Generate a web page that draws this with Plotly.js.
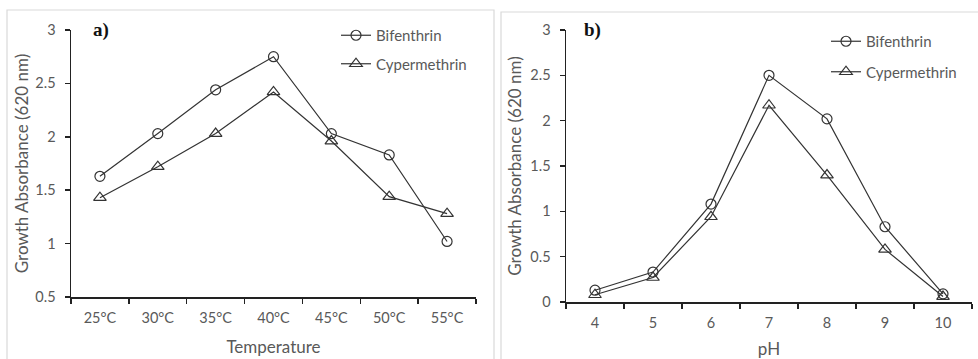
<!DOCTYPE html>
<html>
<head>
<meta charset="utf-8">
<script src="https://cdn.plot.ly/plotly-3.0.1.min.js"></script>
<style>html,body{margin:0;padding:0;background:#fff;}#chart{width:978px;height:359px;}</style>
</head>
<body>
<div id="chart"></div>
<script>
// Panel a) temperature
const tempLabels = ["25°C","30°C","35°C","40°C","45°C","50°C","55°C"];
const tempBifenthrin = [1.63, 2.03, 2.44, 2.75, 2.03, 1.83, 1.02];
const tempCypermethrin = [1.43, 1.72, 2.03, 2.42, 1.96, 1.44, 1.28];
// Panel b) pH
const phLabels = ["4","5","6","7","8","9","10"];
const phBifenthrin = [0.13, 0.33, 1.08, 2.50, 2.02, 0.83, 0.09];
const phCypermethrin = [0.08, 0.27, 0.94, 2.17, 1.40, 0.58, 0.06];

const FONT = "Lato, 'Open Sans', sans-serif";
const GREY = "#595959";
const lineStyle = {color: "#333333", width: 1.2};
const circle = {symbol: "circle-open", size: 10, color: "#333333", line: {width: 1.2}};
const triangle = {symbol: "triangle-up-open", size: 11, color: "#333333", line: {width: 1.2}};

const traces = [
  {x: tempLabels, y: tempBifenthrin, name: "Bifenthrin", type: "scatter", mode: "lines+markers",
   line: lineStyle, marker: circle, xaxis: "x", yaxis: "y", legend: "legend", legendgroup: "a1"},
  {x: tempLabels, y: tempCypermethrin, name: "Cypermethrin", type: "scatter", mode: "lines+markers",
   line: lineStyle, marker: triangle, xaxis: "x", yaxis: "y", legend: "legend", legendgroup: "a2"},
  {x: phLabels, y: phBifenthrin, name: "Bifenthrin", type: "scatter", mode: "lines+markers",
   line: lineStyle, marker: circle, xaxis: "x2", yaxis: "y2", legend: "legend2", legendgroup: "b1"},
  {x: phLabels, y: phCypermethrin, name: "Cypermethrin", type: "scatter", mode: "lines+markers",
   line: lineStyle, marker: triangle, xaxis: "x2", yaxis: "y2", legend: "legend2", legendgroup: "b2"}
];

const W = 978, H = 359;
const px = v => v / W;
const py = v => 1 - v / H;

const axisCommon = {
  showline: true, linecolor: "#222", linewidth: 1.5,
  ticks: "outside", ticklen: 5, tickcolor: "#222", tickwidth: 1.5,
  showgrid: false, zeroline: false,
  tickfont: {family: FONT, size: 14.5, color: GREY}
};
const titleFont = {family: FONT, size: 17, color: GREY};

const layout = {
  width: W, height: H,
  margin: {l: 0, r: 0, t: 0, b: 0},
  paper_bgcolor: "#fff", plot_bgcolor: "rgba(0,0,0,0)",
  font: {family: FONT, color: GREY},
  showlegend: true,
  xaxis: Object.assign({}, axisCommon, {
    domain: [px(71), px(476)], anchor: "y", type: "category",
    tickson: "boundaries", range: [-0.5, 6.5], ticklabelstandoff: 7,
    title: {text: "Temperature", font: titleFont, standoff: 16}
  }),
  yaxis: Object.assign({}, axisCommon, {
    domain: [py(297), py(30)], anchor: "x", range: [0.5, 3], dtick: 0.5, tick0: 0,
    ticklabelstandoff: 6,
    title: {text: "Growth Absorbance (620 nm)", font: titleFont, standoff: 2}
  }),
  xaxis2: Object.assign({}, axisCommon, {
    domain: [px(566), px(972)], anchor: "y2", type: "category",
    tickson: "boundaries", range: [-0.5, 6.5], ticklabelstandoff: 7,
    title: {text: "pH", font: titleFont, standoff: 14}
  }),
  yaxis2: Object.assign({}, axisCommon, {
    domain: [py(302), py(30)], anchor: "x2", range: [0, 3], dtick: 0.5, tick0: 0,
    ticklabelstandoff: 6,
    title: {text: "Growth Absorbance (620 nm)", font: titleFont, standoff: 4}
  }),
  legend: {
    x: px(336), y: py(19), xanchor: "left", yanchor: "top",
    bgcolor: "rgba(0,0,0,0)", font: {family: FONT, size: 15, color: GREY},
    traceorder: "grouped", tracegroupgap: 6, itemwidth: 30
  },
  legend2: {
    x: px(826), y: py(25), xanchor: "left", yanchor: "top",
    bgcolor: "rgba(0,0,0,0)", font: {family: FONT, size: 15, color: GREY},
    traceorder: "grouped", tracegroupgap: 8, itemwidth: 30
  },
  annotations: [
    {text: "<b>a)</b>", xref: "paper", yref: "paper", x: px(91), y: py(30), xanchor: "left", yanchor: "middle",
     showarrow: false, font: {family: "'Liberation Serif', 'DejaVu Serif', serif", size: 19, color: "#111"}},
    {text: "<b>b)</b>", xref: "paper", yref: "paper", x: px(582), y: py(30), xanchor: "left", yanchor: "middle",
     showarrow: false, font: {family: "'Liberation Serif', 'DejaVu Serif', serif", size: 19, color: "#111"}}
  ],
  shapes: [
    {type: "path", xref: "paper", yref: "paper",
     path: `M ${px(7)} 0 L ${px(7)} ${py(10)} L ${px(494)} ${py(10)} L ${px(494)} 0`,
     line: {color: "#d9d9d9", width: 1.2}},
    {type: "path", xref: "paper", yref: "paper",
     path: `M ${px(501)} 0 L ${px(501)} ${py(12)} L ${px(978)} ${py(12)}`,
     line: {color: "#d9d9d9", width: 1.2}}
  ]
};

Plotly.newPlot("chart", traces, layout, {displayModeBar: false, staticPlot: true});
</script>
</body>
</html>
